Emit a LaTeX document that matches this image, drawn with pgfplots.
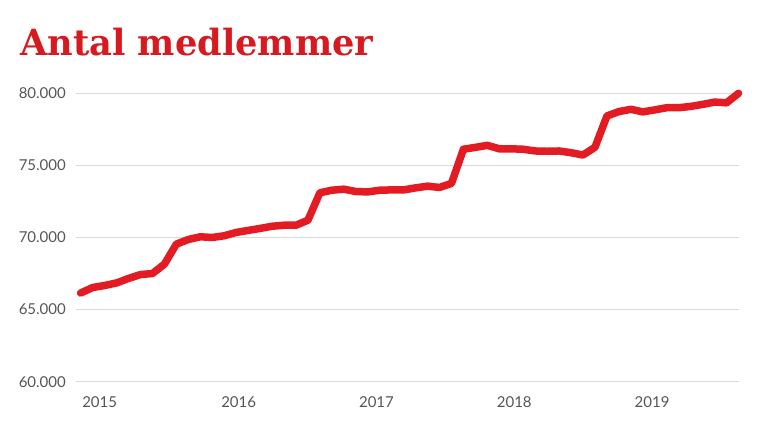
\documentclass[border=0pt]{standalone}
\usepackage{fontspec}
\setmainfont{Lato}
\newfontfamily\titlefont{DejaVu Serif}
\usepackage{pgfplots}
\pgfplotsset{compat=1.18}
\definecolor{linered}{HTML}{E31B23}
\definecolor{titlered}{HTML}{D71920}
\definecolor{gridgray}{HTML}{DADADA}
\definecolor{labelgray}{HTML}{555555}
\begin{document}
\begin{tikzpicture}
\path[use as bounding box] (0,0) rectangle (768pt,430pt);
\node[anchor=south west, inner sep=0pt] at (20pt,373.3pt)
  {\resizebox{353pt}{27.4pt}{\color{titlered}\titlefont\bfseries Antal medlemmer}};
\begin{axis}[
  at={(76pt,48.3pt)}, anchor=south west,
  scale only axis, width=663pt, height=288.4pt,
  xmin=-0.39, xmax=55.04, ymin=60000, ymax=80000,
  clip=false,
  scaled y ticks=false,
  axis line style={draw=none},
  major tick length=0pt,
  ytick={60000,65000,70000,75000,80000},
  yticklabels={60.000,65.000,70.000,75.000,80.000},
  xtick={1.59,13.21,24.73,36.25,47.77},
  xticklabels={2015,2016,2017,2018,2019},
  ymajorgrids,
  grid style={gridgray, line width=1.4pt},
  tick label style={font=\fontsize{15}{18}\selectfont, text=labelgray},
  yticklabel style={anchor=east, inner sep=0pt, xshift=-10pt},
  xticklabel style={anchor=north, inner sep=0pt, yshift=-15pt},
]
\addplot[linered, line width=7.5pt, line cap=round, line join=round] coordinates {
(0,66150) (1,66530) (2,66670) (3,66850) (4,67160) (5,67430) (6,67500) (7,68150)
(8,69540) (9,69860) (10,70050) (11,70000) (12,70120) (13,70350) (14,70490) (15,70630)
(16,70780) (17,70850) (18,70850) (19,71200) (20,73100) (21,73280) (22,73350) (23,73190)
(24,73160) (25,73280) (26,73300) (27,73300) (28,73440) (29,73560) (30,73470) (31,73750)
(32,76120) (33,76250) (34,76390) (35,76150) (36,76150) (37,76120) (38,76000) (39,75980)
(40,76000) (41,75880) (42,75720) (43,76260) (44,78430) (45,78730) (46,78890) (47,78710)
(48,78850) (49,79000) (50,79000) (51,79090) (52,79230) (53,79390) (54,79340) (55,80000)
};
\end{axis}
\end{tikzpicture}
\end{document}
